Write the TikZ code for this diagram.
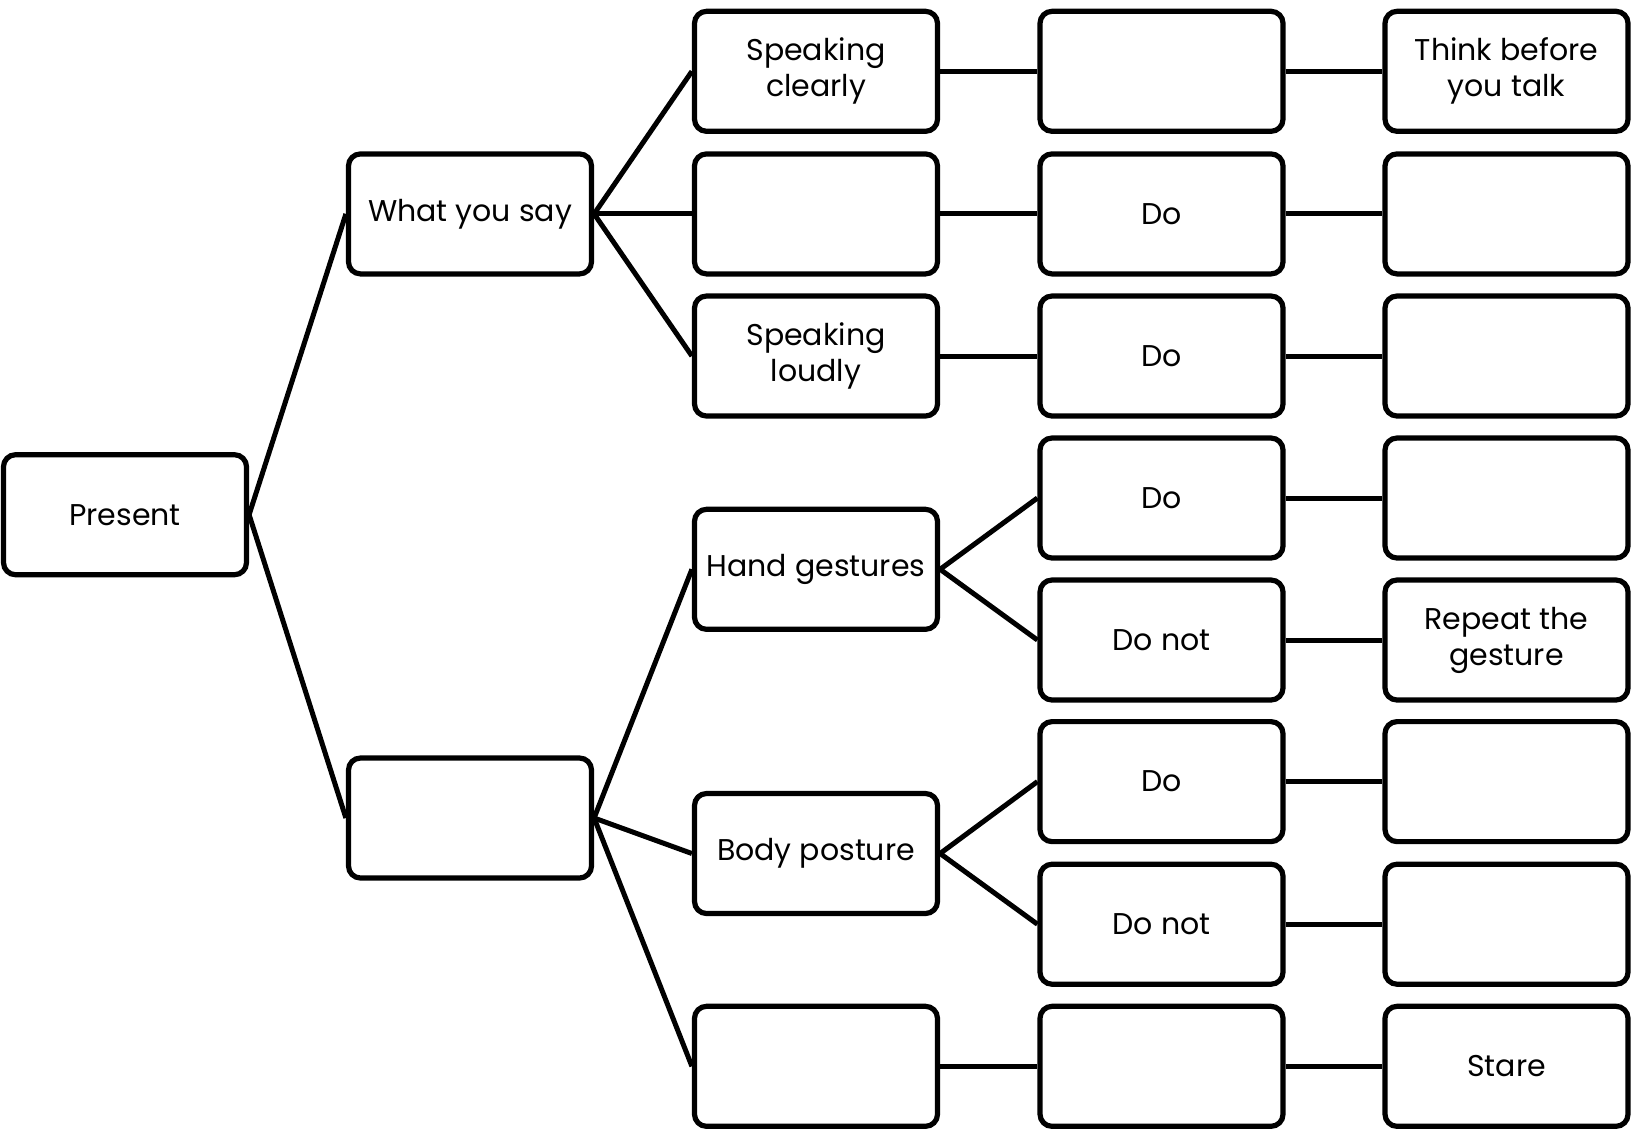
\documentclass[tikz,border=0pt]{standalone}
\usepackage{fontspec}
\setmainfont{Poppins}
\begin{document}
\begin{tikzpicture}[x=1pt,y=-1pt,
  box/.style={draw=black, line width=5.2pt, rounded corners=12pt, minimum width=243pt, minimum height=120pt, align=center, inner sep=2pt, font=\fontsize{30}{36}\selectfont},
  link/.style={line width=5pt}]
\useasboundingbox (0,0) rectangle (1632,1130);
\def\ca{125}\def\cb{470}\def\cc{816}\def\cd{1161.5}\def\ce{1506.5}
\node[box] (present) at (\ca,514.7) {Present};
\node[box] (wys) at (\cb,213.9) {What you say};
\node[box] (b2) at (\cb,818) {};
\node[box] (sc) at (\cc,71.3) {Speaking\\clearly};
\node[box] (c3b) at (\cc,213.9) {};
\node[box] (sl) at (\cc,356) {Speaking\\loudly};
\node[box] (hg) at (\cc,569.3) {Hand gestures};
\node[box] (bp) at (\cc,853.5) {Body posture};
\node[box] (c3h) at (\cc,1066.3) {};
\node[box] (d1) at (\cd,71.3) {};
\node[box] (d2) at (\cd,213.9) {Do};
\node[box] (d3) at (\cd,356) {Do};
\node[box] (d4) at (\cd,498) {Do};
\node[box] (d5) at (\cd,640) {Do not};
\node[box] (d6) at (\cd,781.6) {Do};
\node[box] (d7) at (\cd,924.2) {Do not};
\node[box] (d8) at (\cd,1066.3) {};
\node[box] (e1) at (\ce,71.3) {Think before\\you talk};
\node[box] (e2) at (\ce,213.9) {};
\node[box] (e3) at (\ce,356) {};
\node[box] (e4) at (\ce,498) {};
\node[box] (e5) at (\ce,640) {Repeat the\\gesture};
\node[box] (e6) at (\ce,781.6) {};
\node[box] (e7) at (\ce,924.2) {};
\node[box] (e8) at (\ce,1066.3) {Stare};
\draw[link] (present.east) -- (wys.west);
\draw[link] (present.east) -- (b2.west);
\draw[link] (wys.east) -- (sc.west);
\draw[link] (wys.east) -- (c3b.west);
\draw[link] (wys.east) -- (sl.west);
\draw[link] (b2.east) -- (hg.west);
\draw[link] (b2.east) -- (bp.west);
\draw[link] (b2.east) -- (c3h.west);
\draw[link] (sc.east) -- (d1.west);
\draw[link] (c3b.east) -- (d2.west);
\draw[link] (sl.east) -- (d3.west);
\draw[link] (hg.east) -- (d4.west);
\draw[link] (hg.east) -- (d5.west);
\draw[link] (bp.east) -- (d6.west);
\draw[link] (bp.east) -- (d7.west);
\draw[link] (c3h.east) -- (d8.west);
\foreach \i in {1,...,8} {\draw[link] (d\i.east) -- (e\i.west);}
\end{tikzpicture}
\end{document}
